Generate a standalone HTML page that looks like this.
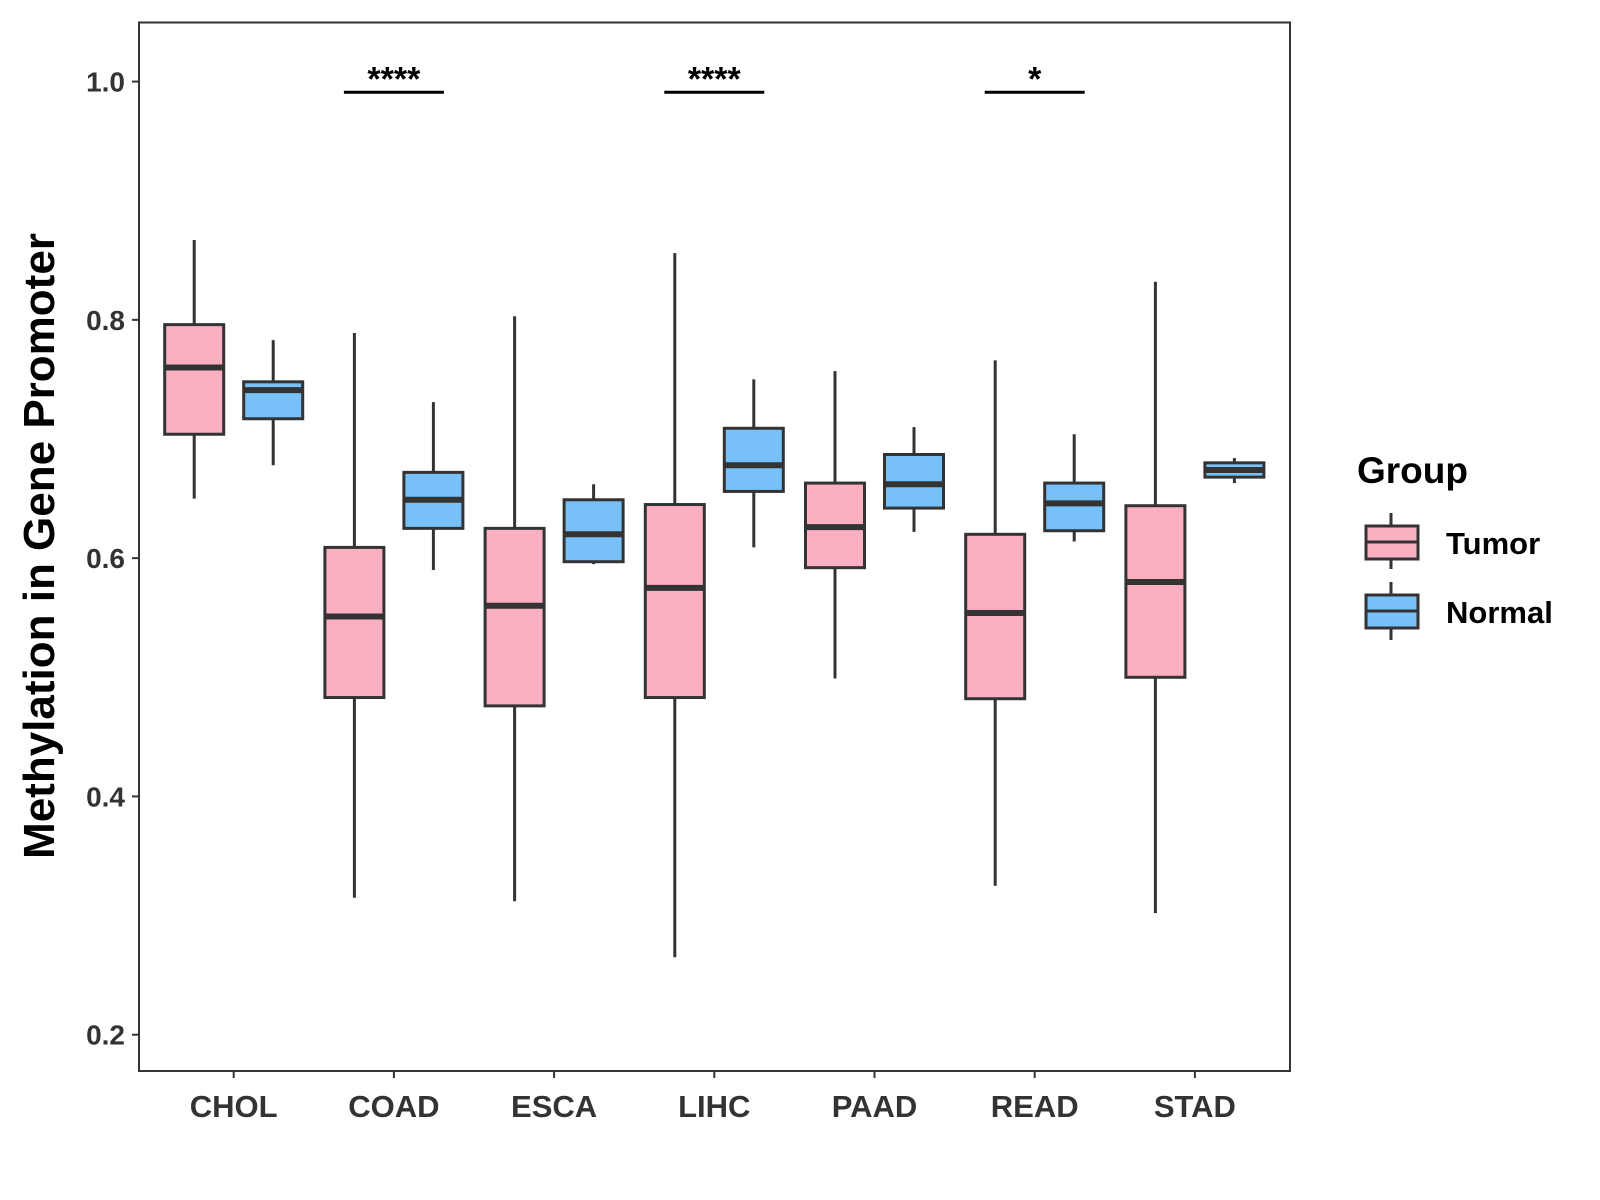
<!DOCTYPE html>
<html><head><meta charset="utf-8"><style>
body{margin:0;background:#fff}
svg{display:block;font-family:"Liberation Sans",Arial,sans-serif;font-weight:bold}
</style></head><body>
<svg id="chart" width="1600" height="1200" viewBox="0 0 1600 1200">
<rect x="139" y="22.5" width="1151" height="1048.5" fill="none" stroke="#333" stroke-width="2"/>
<g id="marks"></g>
<text transform="translate(54,546) rotate(-90)" text-anchor="middle" font-size="44" fill="#000">Methylation in Gene Promoter</text>
<g>
<text x="1357" y="483" font-size="37" fill="#000">Group</text>
<g>
<line x1="1391" y1="513" x2="1391" y2="569" stroke="#333" stroke-width="3"/>
<rect x="1366" y="526" width="52" height="33" fill="#FBB0C2" stroke="#333" stroke-width="3"/>
<line x1="1366" y1="542" x2="1418" y2="542" stroke="#333" stroke-width="3"/>
<text x="1446" y="554" font-size="31" fill="#000">Tumor</text></g>
<g>
<line x1="1391" y1="582" x2="1391" y2="640" stroke="#333" stroke-width="3"/>
<rect x="1366" y="595" width="52" height="33" fill="#78C1F8" stroke="#333" stroke-width="3"/>
<line x1="1366" y1="611" x2="1418" y2="611" stroke="#333" stroke-width="3"/>
<text x="1446" y="623" font-size="31" fill="#000">Normal</text></g>
</g>
</svg>
<script>
const categories=["CHOL","COAD","ESCA","LIHC","PAAD","READ","STAD"];
const tumorStats=[[0.650,0.704,0.760,0.796,0.867],[0.315,0.483,0.551,0.609,0.789],[0.312,0.476,0.560,0.625,0.803],[0.265,0.483,0.575,0.645,0.856],[0.499,0.592,0.626,0.663,0.757],[0.325,0.482,0.554,0.620,0.766],[0.302,0.500,0.580,0.644,0.832]];
const normalStats=[[0.678,0.717,0.741,0.748,0.783],[0.590,0.625,0.649,0.672,0.731],[0.595,0.597,0.620,0.649,0.662],[0.609,0.656,0.678,0.709,0.750],[0.622,0.642,0.662,0.687,0.710],[0.614,0.623,0.646,0.663,0.704],[0.663,0.668,0.674,0.680,0.684]];
const yTicks=[0.2,0.4,0.6,0.8,1.0];
const sigCats=["COAD","LIHC","READ"];
const sigLabels=["****","****","*"];
const sigY=[0.991,0.991,0.991];

const NS="http://www.w3.org/2000/svg";
const g=document.getElementById('marks');
function y(v){return 1034.7-(v-0.2)*1191.4;}
function x(i){return 233.7+i*160.2;}
function el(t,a,p){const e=document.createElementNS(NS,t);for(const k in a)e.setAttribute(k,a[k]);(p||g).appendChild(e);return e;}
yTicks.forEach(t=>{
  const l=el('line',{x1:132,x2:139,y1:y(t),y2:y(t),stroke:'#333','stroke-width':2});
  
  
  const tx=el('text',{x:125,y:y(t)+10,'text-anchor':'end','font-size':28,fill:'#333'});
  tx.textContent=t.toFixed(1);
  
  
});
categories.forEach((c,i)=>{
  const l=el('line',{x1:x(i),x2:x(i),y1:1071,y2:1078,stroke:'#333','stroke-width':2});
  
  
  const tx=el('text',{x:x(i),y:1117,'text-anchor':'middle','font-size':31,fill:'#333'});
  tx.textContent=c;
  
  
  [[tumorStats[i],-39.5,'#FBB0C2','tumor'],[normalStats[i],39.5,'#78C1F8','normal']].forEach(([s,off,col,nm])=>{
    const cx=x(i)+off,w=59;
    const grp=el('g',{});
    
    
    el('line',{x1:cx,x2:cx,y1:y(s[0]),y2:y(s[4]),stroke:'#333','stroke-width':3},grp);
    el('rect',{x:cx-w/2,y:y(s[3]),width:w,height:y(s[1])-y(s[3]),fill:col,stroke:'#333','stroke-width':3},grp);
    el('line',{x1:cx-w/2,x2:cx+w/2,y1:y(s[2]),y2:y(s[2]),stroke:'#333','stroke-width':6},grp);
  });
});
sigCats.forEach((c,k)=>{
  const i=categories.indexOf(c);
  const l=el('line',{x1:x(i)-50,x2:x(i)+50,y1:y(sigY[k]),y2:y(sigY[k]),stroke:'#000','stroke-width':3});
  
  
  const tx=el('text',{x:x(i),y:y(sigY[k])-2,'text-anchor':'middle','font-size':34,fill:'#000'});
  tx.textContent=sigLabels[k];
  
  
});
</script>
</body></html>
